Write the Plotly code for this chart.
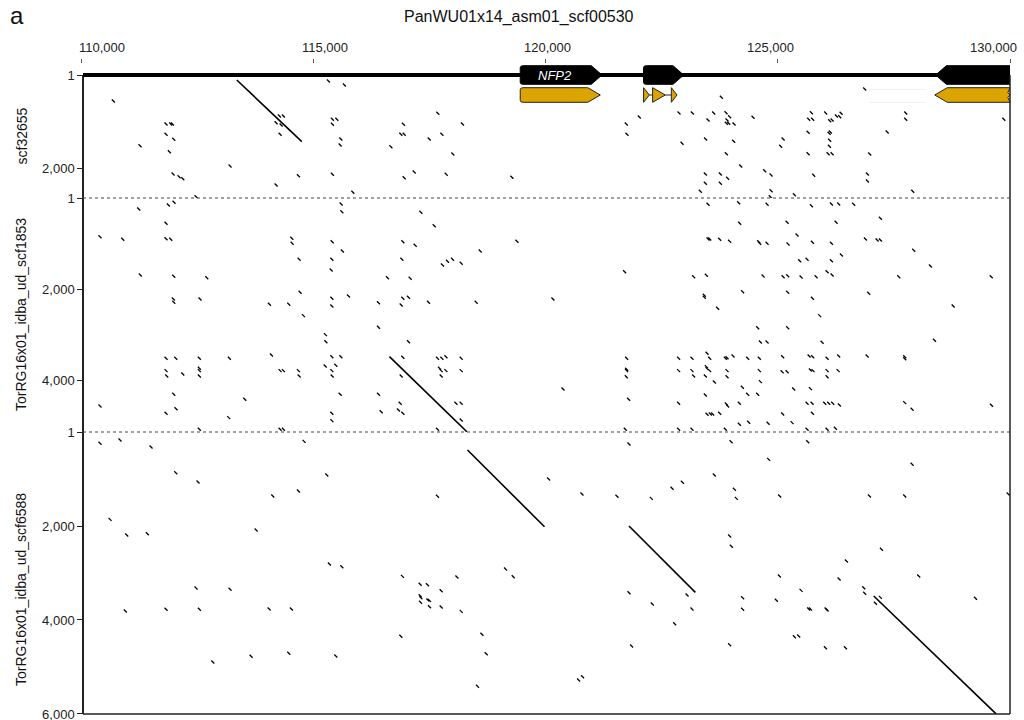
import plotly.graph_objects as go

# ---------------- data ----------------
# panel 1: scf32655 (dot positions, bp)
p1_x = [110696,115327,115671,114271,114358,114200,114308,114286,111831,111932,111967,111831,111997,111902,111271,115413,115508,115413,115594,115579,116942,116886,116957,116671,117683,117496,117769,118006,118213,113209,111982,112111,112191,114200,114681,115413,115852,117173,116957,117862,112477,119277,
        123786,126872,122019,121739,121754,122874,123161,123620,123499,123887,123964,123908,123893,123943,124059,124468,122939,123447,124051,123893,124201,123441,123764,123921,123441,123764,123333,124718,124856,124856,125358,124841,125115,125063,125653,125653,125724,125666,125752,126032,126118,126170,126105,126133,126118,126112,126084,126170,126263,126334,126364,125774,126930,126930,126980,127355,127755,127755,127906,129866]
p1_y = [555,128,213,875,875,1018,1067,1265,1046,1046,1046,1265,1372,1637,1509,945,945,1052,1366,1494,1052,1265,1265,1530,817,1366,1265,1686,1046,1942,2113,2170,2213,2347,2149,2119,2503,2070,2192,2119,2600,2183,
        476,299,896,1046,1265,811,811,811,960,805,890,960,1031,1031,1046,903,1458,1366,1415,1679,1942,2113,2113,2204,2311,2311,2482,2042,2134,2469,2554,2600,1366,1522,1223,1679,805,945,945,811,975,960,1244,1216,1394,1522,1679,1679,875,890,817,2140,2113,2262,1686,1216,811,945,2482,945]

# panel 2: TorRG16x01_idba_ud_scf1853
p2_x = [112003,111880,111243,115600,115615,117317,117604,111831,110409,110898,111831,111932,114538,114545,115407,116929,117194,115628,118594,119385,
        114696,115400,116908,117782,117890,117998,118185,115385,111277,111997,112708,116598,117087,114717,111988,111997,112563,115400,115758,116929,
        117050,114056,114474,115400,116404,116893,117481,118508,114788,116404,115262,115271,117050,114099,111831,112040,112548,113194,115400,115594,
        116929,117675,117769,117856,118185,111831,111846,112191,112548,112548,112548,114286,114358,114681,114696,115256,115400,115486,115407,116893,
        117718,117754,117856,117754,118185,110409,111997,112046,111831,113526,113181,115579,115400,115400,116404,116462,116871,116835,116929,118071,
        118185,118185,117675,112548,114286,114358,
        123499,124158,124770,125724,126155,126312,126635,124180,125201,126256,127210,125416,123499,123534,123749,123964,124589,124611,124770,125222,
        125746,126155,126887,127139,127210,127928,126370,125472,125631,126155,128287,121703,123189,123463,124684,125115,125214,125502,125825,126062,
        126170,127605,129595,120160,123419,123419,124244,125214,125746,126958,123706,125903,128776,124568,125214,124626,124770,125955,128374,121746,
        122866,123154,123478,123534,123872,123908,124038,124352,124604,125106,125675,125752,126062,126312,126924,127734,127734,121746,121746,121739,
        122866,123154,123463,123478,123534,123189,123441,123908,123908,124604,125093,125201,125703,125760,126062,126062,126299,123635,124626,120376,
        121789,123441,124238,124352,124568,125343,125703,122866,123893,123921,124173,125631,125739,126011,126097,126183,126327,127734,127893,129601,
        123478,123549,123598,123749,125106,125746,124173,124374,124792,125308,121718,122866,123154,123872,125631,126062,126241]
p2_y = [94,154,241,132,301,314,608,555,849,906,893,906,884,994,959,959,1038,1163,1163,950,
        1345,1345,1345,1470,1389,1345,1433,1580,1689,1718,1749,1749,1762,2069,2216,2288,2216,2201,2150,2201,
        2179,2332,2332,2370,2297,2348,2288,2288,2582,2837,2999,3153,3153,3445,3517,3517,3517,3517,3482,3482,
        3495,3517,3517,3482,3517,3789,3905,3861,3736,3789,3905,3789,3789,3789,3905,3686,3789,3671,3905,3905,
        3736,3789,3789,3905,3789,4564,4307,4623,4724,4416,4820,4307,4724,4886,4307,4689,4504,4651,4724,4504,
        4504,4871,5075,5075,5075,5075,
        138,103,138,169,132,132,138,555,533,533,445,812,900,900,906,950,959,994,994,1009,
        972,994,900,921,921,1147,1251,1376,1345,1376,1492,1617,1727,1696,1711,1727,1705,1733,1727,1617,
        1689,1727,1727,2216,2135,2179,2056,2069,2201,2091,2420,2582,2370,2846,2846,3159,3159,3166,3122,3517,
        3517,3517,3407,3517,3517,3504,3467,3517,3517,3482,3467,3482,3517,3467,3467,3482,3526,3758,3789,3921,
        3789,3789,3701,3745,3789,3905,3905,3789,3921,3789,3811,3811,3774,3789,3789,3921,3789,4037,4030,4191,
        4416,4322,4153,4307,4307,4191,4184,4504,4520,4564,4504,4504,4504,4504,4504,4504,4542,4491,4636,4548,
        4746,4739,4739,4724,4739,4724,4965,4921,4943,4930,5075,5075,5075,5075,5075,5075,5053]

# panel 3: TorRG16x01_idba_ud_scf6588
p3_x = [110409,110840,111508,114803,112040,112520,115292,114129,114681,117675,120066,110625,110984,111428,113770,115348,115615,116921,118093,119139,
        119305,117302,117459,117754,117302,117317,117468,117502,117309,117502,117754,118185,112477,113209,110954,111831,112548,114050,114530,116886,
        118631,118724,112837,113662,114474,115486,118536,
        121797,123995,125645,124804,127893,123635,122724,122946,120785,121539,122278,124066,124109,125041,126974,127734,129961,123964,124001,127232,
        126478,125035,126321,128035,126851,126872,127210,127103,129257,121797,123047,122299,123154,124244,124244,124970,125502,125666,125703,126041,
        126062,122780,125358,125451,121853,123964,126026,126457,120712,120798]
p3_y = [240,170,319,198,866,1064,915,1362,1256,1368,1000,1858,2192,2164,2085,2809,2866,3071,3086,2915,
        3079,3241,3249,3377,3484,3526,3575,3582,3624,3718,3724,3816,3320,3347,3809,3773,3773,3767,3767,4348,
        4305,4718,4894,4773,4709,4767,5412,
        255,206,206,581,687,915,1198,1070,1319,1368,1411,1219,1411,1362,1362,1362,1319,2213,2432,2496,
        2745,3064,3128,3064,3313,3432,3518,3645,3539,3420,3469,3660,3767,3526,3773,3581,3369,3767,3767,3767,
        3788,4079,4356,4341,4554,4526,4590,4590,5277,5207]

# long alignments (panel index, ref start/end, query start/end)
aln_panel = [1, 2, 3, 3, 3]
aln_x0 = [113354, 116641, 118321, 121797, 127066]
aln_x1 = [114754, 118308, 119979, 123226, 129701]
aln_y0 = [107, 3482, 383, 2000, 3490]
aln_y1 = [1423, 5130, 2015, 3411, 6000]

# genes (track 1: black gene models, track 2: gold CDS)
gene_start = [119456, 122110, 128400]
gene_end = [121216, 122975, 130000]
gene_strand = [1, 1, -1]
gene_name = ["NFP2", "", ""]
cds_start = [119456, 122112, 122306, 122709, 128380]
cds_end = [121180, 122235, 122579, 122831, 130000]
cds_strand = [1, 1, 1, 1, -1]
cds_gene = [0, 1, 1, 1, 2]

x_ticks = [110000, 115000, 120000, 125000, 130000]
x_tick_text = ["110,000", "115,000", "120,000", "125,000", "130,000"]
panel_names = ["scf32655", "TorRG16x01_idba_ud_scf1853", "TorRG16x01_idba_ud_scf6588"]
panel_len = [2625, 5135, 6001]
panel_ticks = [[1, 2000], [1, 2000, 4000], [1, 2000, 4000, 6000]]
panel_tick_text = [["1", "2,000"], ["1", "2,000", "4,000"], ["1", "2,000", "4,000", "6,000"]]

# ---------------- layout geometry ----------------
FONT = "Liberation Sans, Arial, Helvetica, sans-serif"
W, H = 1024, 720
ML, MR, MT, MB = 81, 14, 63, 6
PH = H - MT - MB
PW = W - ML - MR


def fy(py):
    return (H - MB - py) / PH


def fx(px):
    return (px - ML) / PW


panel_dom = [[fy(198), fy(75)], [fy(432), fy(198)], [0, fy(432)]]
panel_axes = ["y", "y3", "y4"]
yleft = fx(83)

fig = go.Figure()

dot_marker = dict(symbol="line-nw", size=3, color="black", line=dict(color="black", width=1.3))
for xs, ys, ax in [(p1_x, p1_y, "y"), (p2_x, p2_y, "y3"), (p3_x, p3_y, "y4")]:
    fig.add_trace(go.Scatter(x=xs, y=ys, mode="markers", marker=dot_marker,
                             xaxis="x", yaxis=ax, hoverinfo="skip"))

for p in (1, 2, 3):
    lx, ly = [], []
    for i, pp in enumerate(aln_panel):
        if pp == p:
            lx += [aln_x0[i], aln_x1[i], None]
            ly += [aln_y0[i], aln_y1[i], None]
    fig.add_trace(go.Scatter(x=lx, y=ly, mode="lines", line=dict(color="black", width=1.6),
                             xaxis="x", yaxis=panel_axes[p - 1], hoverinfo="skip"))

shapes = []


def arrow_path(x0, x1, c, h, head, strand, trunc=False, rx=60, ry=0.1):
    top, bot = c - h, c + h
    L = x1 - x0
    if strand > 0:
        if L <= head * 1.25:
            return f"M {x0},{top} L {x1},{c} L {x0},{bot} Z"
        xh = x1 - head
        return (f"M {x0+rx},{top} L {xh},{top} L {x1},{c} L {xh},{bot} L {x0+rx},{bot} "
                f"Q {x0},{bot} {x0},{bot-ry} L {x0},{top+ry} Q {x0},{top} {x0+rx},{top} Z")
    xh = x0 + head
    if trunc:
        return (f"M {x0},{c} L {xh},{top} L {x1},{top} L {x1-45},{c-h/3} L {x1},{c} "
                f"L {x1-45},{c+h/3} L {x1},{bot} L {xh},{bot} Z")
    return f"M {x0},{c} L {xh},{top} L {x1},{top} L {x1},{bot} L {xh},{bot} Z"


# backbone
shapes.append(dict(type="line", xref="paper", yref="y2", x0=yleft, x1=1, y0=0, y1=0,
                   line=dict(color="black", width=4), layer="above"))
# faint remnants
for yy in (0.72, 1.37):
    shapes.append(dict(type="line", xref="x", yref="y2", x0=126974, x1=128180, y0=yy, y1=yy,
                       line=dict(color="#f0f0f0", width=1), layer="above"))
for s, e, st in zip(gene_start, gene_end, gene_strand):
    shapes.append(dict(type="path", xref="x", yref="y2",
                       path=arrow_path(s, e, 0, 0.465, 230, st),
                       fillcolor="black", line=dict(color="black", width=1), layer="above"))
# intron connectors for gold track
for i in range(len(cds_start) - 1):
    if cds_gene[i] == cds_gene[i + 1]:
        shapes.append(dict(type="line", xref="x", yref="y2", x0=cds_end[i], x1=cds_start[i + 1],
                           y0=1, y1=1, line=dict(color="#222", width=1), layer="above"))
for s, e, st in zip(cds_start, cds_end, cds_strand):
    shapes.append(dict(type="path", xref="x", yref="y2",
                       path=arrow_path(s, e, 1, 0.365, 270, st, trunc=(e >= 130000)),
                       fillcolor="#DBA400", line=dict(color="#222", width=1), layer="above"))

# frame
shapes.append(dict(type="line", xref="paper", yref="paper", x0=yleft, x1=1, y0=0, y1=0,
                   line=dict(color="#222", width=1.5)))
shapes.append(dict(type="line", xref="paper", yref="paper", x0=1, x1=1, y0=0, y1=fy(75),
                   line=dict(color="#222", width=1.5)))
for py in (198, 432):
    shapes.append(dict(type="line", xref="paper", yref="paper", x0=yleft, x1=1, y0=fy(py), y1=fy(py),
                       line=dict(color="#444", width=1.2, dash="dot")))

annotations = []
for v, t in zip(x_ticks, x_tick_text):
    annotations.append(dict(text=t, xref="x", yref="paper", x=110452 + (v - 110000) * 0.9601,
                            y=fy(48), xanchor="center", yanchor="middle", showarrow=False,
                            font=dict(family=FONT, size=13, color="#222")))
annotations.append(dict(text="PanWU01x14_asm01_scf00530", xref="paper", yref="paper", x=fx(519),
                        y=fy(17), xanchor="center", yanchor="middle", showarrow=False,
                        font=dict(family=FONT, size=16, color="#111")))
annotations.append(dict(text="a", xref="paper", yref="paper", x=fx(8), y=fy(15),
                        xanchor="left", yanchor="middle", showarrow=False,
                        font=dict(family=FONT, size=24, color="#111")))
centers = [136.5, 315, 590]
for name, cy in zip(panel_names, centers):
    annotations.append(dict(text=name, xref="paper", yref="paper", x=fx(21), y=fy(cy),
                            xanchor="center", yanchor="middle", textangle=-90, showarrow=False,
                            font=dict(family=FONT, size=14, color="#111")))
for s, e, nm in zip(gene_start, gene_end, gene_name):
    if nm:
        annotations.append(dict(text="<i>" + nm + "</i>", xref="x", yref="y2", x=(s + e) / 2 - 130,
                                y=0, showarrow=False, xanchor="center", yanchor="middle",
                                font=dict(family=FONT, size=13, color="white")))

yaxis_common = dict(anchor="free", position=yleft, showline=True, linecolor="#222", linewidth=1.5,
                    ticks="outside", ticklen=5, tickwidth=1, tickcolor="#222", showgrid=False,
                    zeroline=False, ticklabeloverflow="allow", automargin=False,
                    tickfont=dict(family=FONT, size=13, color="#222"))

layout = dict(
    width=W, height=H, margin=dict(l=ML, r=MR, t=MT, b=MB, autoexpand=False),
    paper_bgcolor="white", plot_bgcolor="rgba(0,0,0,0)", showlegend=False,
    font=dict(family=FONT),
    xaxis=dict(range=[110000, 130000], domain=[0, 1], anchor="free", position=1, side="top",
               showline=False, showgrid=False, zeroline=False, ticks="outside", ticklen=4,
               tickwidth=1, tickcolor="#555", tickvals=x_ticks, showticklabels=False,
               automargin=False),
    yaxis2=dict(domain=[fy(110), 1], range=[1.75, -0.6], visible=False, anchor="x"),
    shapes=shapes, annotations=annotations,
)
for k, ax in enumerate(["yaxis", "yaxis3", "yaxis4"]):
    d = dict(yaxis_common)
    d.update(domain=panel_dom[k], range=[panel_len[k], -1 if k == 2 else 0],
             tickvals=panel_ticks[k], ticktext=panel_tick_text[k])
    layout[ax] = d

fig.update_layout(**layout)
fig.write_html("out.html")
